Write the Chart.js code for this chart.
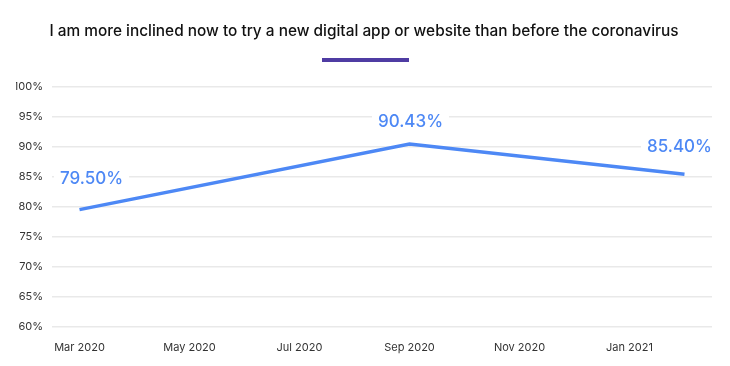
<!DOCTYPE html>
<html>
<head>
<meta charset="utf-8">
<script src="https://cdn.jsdelivr.net/npm/chart.js@4"></script>
<style>
  html, body { margin:0; padding:0; background:#fff; }
  #wrap { width:730px; height:366px; position:relative; }
</style>
</head>
<body>
<div id="wrap"><canvas id="chart-inclinado"></canvas></div>
<script>
// Dados
const titulo = 'I am more inclined now to try a new digital app or website than before the coronavirus';
const meses = ['Mar 2020','Apr 2020','May 2020','Jun 2020','Jul 2020','Aug 2020',
               'Sep 2020','Oct 2020','Nov 2020','Dec 2020','Jan 2021','Feb 2021'];
const valores = [79.50, null, null, null, null, null, 90.43, null, null, null, null, 85.40];
const yTicks = [60, 65, 70, 75, 80, 85, 90, 95, 100];

const AZUL = '#4d88f5';
const ROXO = '#4f3ca3';
const FONTE = 'Inter, "Open Sans", sans-serif';

// barrinha roxa debaixo do título
const barraTitulo = {
  id: 'barraTitulo',
  afterDraw(chart) {
    const ctx = chart.ctx;
    ctx.save();
    ctx.fillStyle = ROXO;
    ctx.fillRect(322, 58, 87, 4);
    ctx.restore();
  }
};

// rótulos dos pontos, com fundo branco por cima da grade
const rotulos = {
  id: 'rotulos',
  afterDatasetsDraw(chart) {
    const ctx = chart.ctx;
    const meta = chart.getDatasetMeta(0);
    const ajuste = { 0: [12, -31], 6: [1, -22], 11: [-5, -27] };
    ctx.save();
    ctx.font = '500 17px ' + FONTE;
    ctx.textAlign = 'center';
    ctx.textBaseline = 'middle';
    meta.data.forEach((pt, i) => {
      const v = valores[i];
      if (v == null) return;
      const [dx, dy] = ajuste[i] || [0, -26];
      const txt = v.toFixed(2) + '%';
      const x = pt.x + dx, y = pt.y + dy;
      const w = ctx.measureText(txt).width + 12;
      ctx.fillStyle = '#fff';
      ctx.fillRect(x - w/2, y - 11, w, 22);
      ctx.fillStyle = AZUL;
      ctx.fillText(txt, x, y);
    });
    ctx.restore();
  }
};

new Chart(document.getElementById('chart-inclinado'), {
  type: 'line',
  data: {
    labels: meses,
    datasets: [{
      data: valores,
      borderColor: AZUL,
      borderWidth: 3.5,
      pointRadius: 0,
      spanGaps: true,
      tension: 0
    }]
  },
  options: {
    responsive: true, maintainAspectRatio: false, animation: false,
    layout: { padding: { left: 16, right: 18, bottom: 6 } },
    plugins: {
      legend: { display: false },
      tooltip: { enabled: false },
      title: {
        display: true, text: titulo, color: '#111',
        font: { family: FONTE, size: 15.4, weight: '500' },
        padding: { top: 22, bottom: 46 }
      }
    },
    scales: {
      x: {
        offset: true,
        grid: { display: false },
        border: { display: false },
        ticks: {
          autoSkip: false, maxRotation: 0, color: '#333', padding: 6,
          font: { family: FONTE, size: 11 },
          callback: (v, i) => i % 2 === 0 ? meses[i] : ''
        }
      },
      y: {
        min: yTicks[0], max: yTicks[yTicks.length - 1],
        grid: { color: '#e9e9e9', lineWidth: 1.5, drawTicks: false },
        border: { display: false },
        afterBuildTicks: s => { s.ticks = yTicks.map(v => ({ value: v })); },
        afterFit: s => { s.width = 36; },
        ticks: {
          color: '#333', padding: 9,
          font: { family: FONTE, size: 11 },
          callback: v => v + '%'
        }
      }
    }
  },
  plugins: [barraTitulo, rotulos]
});
</script>
</body>
</html>
